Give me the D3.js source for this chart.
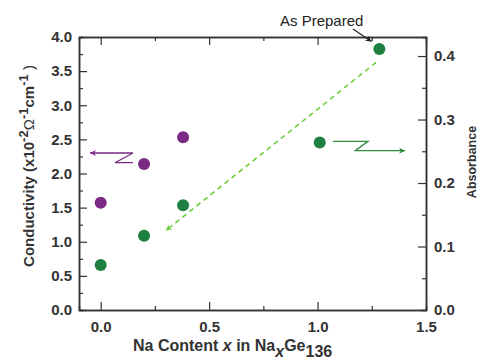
<!DOCTYPE html>
<html>
<head>
<meta charset="UTF-8">
<style>
  body { margin: 0; background: #fff; }
  svg { font-family: "Liberation Sans", Arial, sans-serif; }
  .tick text { font-weight: bold; font-size: 15px; fill: #333; }
</style>
</head>
<body>
<svg width="478" height="361"></svg>
<script src="https://d3js.org/d3.v7.min.js"></script>
<script>
// conductivity (left axis) points
let condX = [0.0, 0.2, 0.38];
let condY = [1.57, 2.14, 2.53];
// absorbance (right axis) points
let absX = [0.0, 0.2, 0.38, 1.01, 1.285];
let absY = [0.071, 0.117, 0.165, 0.264, 0.411];

let xTicks = [0.0, 0.5, 1.0, 1.5];
let yTicks = [0.0, 0.5, 1.0, 1.5, 2.0, 2.5, 3.0, 3.5, 4.0];
let y2Ticks = [0.0, 0.1, 0.2, 0.3, 0.4];

let svg = d3.select("svg");
let L = 79, R = 426, T = 37, B = 310;
let axisCol = "#333";

let x = d3.scaleLinear().domain([-0.1, 1.5]).range([L, R]);
let y = d3.scaleLinear().domain([0, 4]).range([B, T]);
let y2 = d3.scaleLinear().domain([0, 0.43]).range([B, T]);

function styleAxis(g) {
  g.select(".domain").attr("stroke", axisCol).attr("stroke-width", 1.5);
  g.selectAll(".tick line").attr("stroke", axisCol).attr("stroke-width", 1.2);
}

// minor ticks
svg.append("g").attr("transform", "translate(0," + B + ")")
  .call(d3.axisBottom(x).tickValues([0.25, 0.75, 1.25]).tickSize(-4).tickFormat(""))
  .call(styleAxis);
svg.append("g").attr("transform", "translate(0," + T + ")")
  .call(d3.axisTop(x).tickValues([0.25, 0.75, 1.25]).tickSize(-4).tickFormat(""))
  .call(styleAxis);
svg.append("g").attr("transform", "translate(" + L + ",0)")
  .call(d3.axisLeft(y).tickValues(d3.range(0.25, 4, 0.5)).tickSize(-4).tickFormat(""))
  .call(styleAxis);
svg.append("g").attr("transform", "translate(" + R + ",0)")
  .call(d3.axisRight(y2).tickValues([0.05, 0.15, 0.25, 0.35]).tickSize(-4).tickFormat(""))
  .call(styleAxis);

// major axes
svg.append("g").attr("transform", "translate(0," + B + ")")
  .call(d3.axisBottom(x).tickValues(xTicks).tickSizeInner(-8).tickSizeOuter(0).tickPadding(11).tickFormat(d3.format(".1f")))
  .call(styleAxis);
svg.append("g").attr("transform", "translate(0," + T + ")")
  .call(d3.axisTop(x).tickValues(xTicks).tickSizeInner(-8).tickSizeOuter(0).tickFormat(""))
  .call(styleAxis);
svg.append("g").attr("transform", "translate(" + L + ",0)")
  .call(d3.axisLeft(y).tickValues(yTicks).tickSizeInner(-8).tickSizeOuter(0).tickPadding(7).tickFormat(d3.format(".1f")))
  .call(styleAxis);
svg.append("g").attr("transform", "translate(" + R + ",0)")
  .call(d3.axisRight(y2).tickValues(y2Ticks).tickSizeInner(-8).tickSizeOuter(0).tickPadding(8).tickFormat(d3.format(".1f")))
  .call(styleAxis);

// axis labels
let yl = svg.append("text")
  .attr("transform", "translate(34,166) rotate(-90)")
  .attr("text-anchor", "middle")
  .attr("font-size", 15).attr("font-weight", "bold").attr("fill", "#333");
yl.append("tspan").text("Conductivity (x10");
yl.append("tspan").attr("dy", -6).attr("font-size", 13).text("-2");
yl.append("tspan").attr("dy", 6).attr("font-weight", "normal").text("\u03A9");
yl.append("tspan").attr("dy", -6).attr("font-size", 13).text("-1");
yl.append("tspan").attr("dy", 6).text("cm");
yl.append("tspan").attr("dy", -6).attr("font-size", 13).text("-1");
yl.append("tspan").attr("dy", 6).attr("font-weight", "normal").text("   )");

svg.append("text")
  .attr("transform", "translate(476,162) rotate(-90)")
  .attr("text-anchor", "middle")
  .attr("font-size", 12.5).attr("font-weight", "bold").attr("fill", "#333")
  .text("Absorbance");

let xl = svg.append("text")
  .attr("x", 133).attr("y", 351)
  .attr("font-size", 16).attr("font-weight", "bold").attr("fill", "#333");
xl.append("tspan").text("Na Content ");
xl.append("tspan").attr("font-style", "italic").text("x");
xl.append("tspan").text(" in Na");
xl.append("tspan").attr("dy", 6).attr("font-style", "italic").text("x");
xl.append("tspan").attr("dy", -6).text("Ge");
xl.append("tspan").attr("dy", 6).text("136");

// markers
let defs = svg.append("defs");
function marker(id, col) {
  defs.append("marker").attr("id", id)
    .attr("viewBox", "0 -5 10 10").attr("refX", 10).attr("refY", 0)
    .attr("markerWidth", 8).attr("markerHeight", 6).attr("orient", "auto")
    .attr("markerUnits", "userSpaceOnUse")
    .append("path").attr("d", "M0,-5L10,0L0,5L3,0Z").attr("fill", col);
}
marker("ahBlack", "#222");
marker("ahPurple", "#7b2a84");
marker("ahGreen", "#2e8b3e");
marker("ahLight", "#66cc33");

// dashed arrow
svg.append("line")
  .attr("x1", x(1.27)).attr("y1", y2(0.39))
  .attr("x2", x(0.3)).attr("y2", y2(0.125))
  .attr("stroke", "#66cc33").attr("stroke-width", 1.5)
  .attr("stroke-dasharray", "5,4")
  .attr("marker-end", "url(#ahLight)");

// points
svg.append("g").selectAll("circle")
  .data(condX.map((d, i) => [d, condY[i]]))
  .enter().append("circle")
  .attr("cx", d => x(d[0])).attr("cy", d => y(d[1]))
  .attr("r", 6).attr("fill", "#7b2a84");

svg.append("g").selectAll("circle")
  .data(absX.map((d, i) => [d, absY[i]]))
  .enter().append("circle")
  .attr("cx", d => x(d[0])).attr("cy", d => y2(d[1]))
  .attr("r", 6).attr("fill", "#1e8040");

// purple Z arrow -> left axis
svg.append("path")
  .attr("d", "M133,162.7L115,162.7L133,153L90,153")
  .attr("fill", "none").attr("stroke", "#7b2a84").attr("stroke-width", 1.3)
  .attr("marker-end", "url(#ahPurple)");

// green Z arrow -> right axis
svg.append("path")
  .attr("d", "M333,141.3L368,141.3L355.3,150.7L405,150.7")
  .attr("fill", "none").attr("stroke", "#2e8b3e").attr("stroke-width", 1.3)
  .attr("marker-end", "url(#ahGreen)");

// As Prepared
svg.append("text").attr("x", 280).attr("y", 26)
  .attr("font-size", 15).attr("fill", "#222").text("As Prepared");
svg.append("line")
  .attr("x1", 353).attr("y1", 29).attr("x2", 371.5).attr("y2", 41.5)
  .attr("stroke", "#222").attr("stroke-width", 1.2)
  .attr("marker-end", "url(#ahBlack)");
</script>
</body>
</html>
